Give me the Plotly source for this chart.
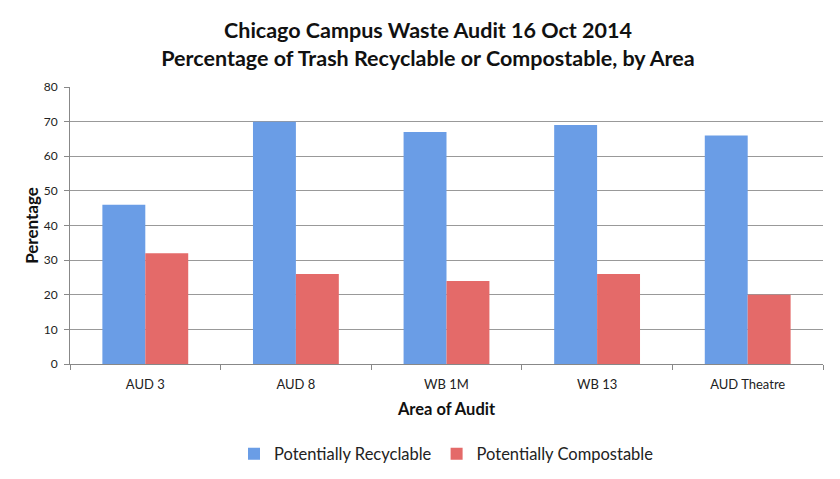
import plotly.graph_objects as go

areas = ["AUD 3", "AUD 8", "WB 1M", "WB 13", "AUD Theatre"]
recyclable = [46, 70, 67, 69, 66]
compostable = [32, 26, 24, 26, 20]
y_ticks = [0, 10, 20, 30, 40, 50, 60, 70, 80]

font_family = "Lato, 'Open Sans', sans-serif"

fig = go.Figure()
fig.add_trace(go.Bar(x=areas, y=recyclable, name="Potentially Recyclable",
                     marker=dict(color="#6a9de6", line=dict(width=0))))
fig.add_trace(go.Bar(x=areas, y=compostable, name="Potentially Compostable",
                     marker=dict(color="#e46a69", line=dict(width=0))))

fig.update_layout(
    width=840, height=479,
    paper_bgcolor="white", plot_bgcolor="white",
    margin=dict(l=62, r=25, t=79, b=123, autoexpand=False),
    font=dict(family=font_family, color="#222"),
    title=dict(text="<b>Chicago Campus Waste Audit 16 Oct 2014<br>Percentage of Trash Recyclable or Compostable, by Area</b>",
               x=0.5, xanchor="center", y=0.938, yanchor="top",
               font=dict(size=21.5, color="#111")),
    barmode="group", bargap=0.43, bargroupgap=0,
    showlegend=True,
    legend=dict(orientation="h", x=0.5, xanchor="center", y=-0.325, yanchor="middle",
                font=dict(size=16.5, color="#222"), itemwidth=30),
    xaxis=dict(title=dict(text="<b>Area of Audit</b>", font=dict(size=16.5, color="#111"), standoff=12),
               showline=True, linecolor="#888", linewidth=1,
               ticks="outside", tickson="boundaries", ticklen=5, tickcolor="#888",
               ticklabelstandoff=8,
               tickfont=dict(size=13, color="#222")),
    yaxis=dict(title=dict(text="<b>Perentage</b>", font=dict(size=17, color="#111"), standoff=0),
               range=[0, 80], tickvals=y_ticks,
               showline=True, linecolor="#888", linewidth=1,
               ticks="outside", ticklen=5, tickcolor="#888",
               ticklabelstandoff=4,
               showgrid=True, gridcolor="#999", gridwidth=1,
               tickfont=dict(size=12, color="#222"), zeroline=False),
)

fig.write_html("out.html")
